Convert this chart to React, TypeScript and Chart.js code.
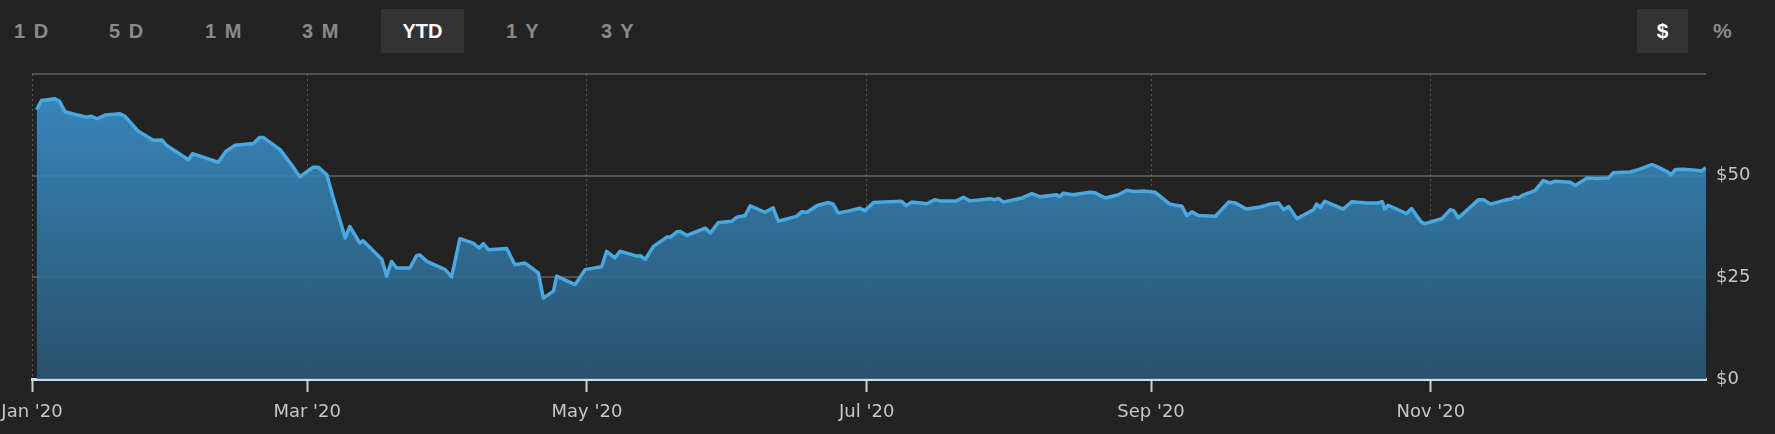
import React, { useEffect, useRef } from "react";
import { Chart, registerables } from "chart.js";

Chart.register(...registerables);

// Day of year 2020 (0 = Jan 1) for each sampled trading day
const days: number[] = [
  1.0, 2.1, 5.0, 6.0, 7.2, 9.0, 11.9, 13.0, 14.2, 15.9, 19.2, 20.3, 23.2, 26.4, 28.3, 29.4,
  34.1, 35.0, 40.6, 42.3, 44.3, 48.3, 49.6, 50.4, 54.1, 56.6, 58.4, 61.3, 62.4, 64.3, 65.7,
  68.3, 69.3, 71.5, 72.2, 76.3, 77.3, 78.4, 79.5, 82.4, 83.9, 84.6, 86.1, 90.1, 91.5, 93.3,
  96.2, 97.5, 98.4, 99.5, 103.5, 105.3, 107.5, 110.4, 111.5, 113.7, 114.4, 118.4, 120.6,
  124.2, 125.3, 127.1, 128.2, 131.9, 132.7, 133.7, 135.5, 138.4, 139.2, 140.6, 141.3, 142.8,
  146.8, 147.9, 149.6, 152.6, 153.7, 155.5, 156.6, 159.8, 161.6, 162.7, 166.7, 167.8, 169.0,
  171.1, 173.6, 174.7, 175.8, 178.4, 180.5, 181.6, 183.5, 189.6, 190.6, 191.8, 195.1, 196.9,
  198.0, 201.6, 203.1, 204.5, 208.9, 210.0, 210.7, 211.8, 215.8, 218.0, 219.8, 223.4, 224.0,
  224.9, 227.0, 230.7, 231.8, 234.0, 236.9, 238.7, 240.2, 242.7, 244.9, 246.0, 248.1, 250.7,
  251.8, 252.9, 254.3, 258.0, 260.9, 262.3, 264.8, 267.8, 269.9, 271.8, 272.9, 274.0, 275.8,
  279.4, 280.1, 280.9, 281.9, 285.9, 287.8, 291.0, 293.6, 294.4, 295.0, 295.7, 299.7, 300.8,
  303.0, 303.7, 307.4, 309.2, 310.0, 311.0, 315.4, 316.5, 318.0, 321.6, 322.7, 323.1, 324.2,
  325.2, 327.7, 328.8, 329.5, 331.0, 332.0, 335.4, 336.5, 339.0, 341.2, 343.7, 344.8, 348.5,
  350.6, 353.2, 354.2, 356.8, 357.3, 358.3, 360.0, 363.3, 364.0, 365.0,
];

// Share price in USD
const prices: number[] = [
  66.2, 68.5, 68.9, 68.3, 65.7, 65.2, 64.4, 64.6, 64.0, 64.9, 65.2, 64.6, 60.9, 58.7, 58.8, 57.4,
  53.9, 55.4, 53.3, 56.0, 57.5, 57.9, 59.4, 59.4, 56.4, 52.7, 49.7, 52.1, 52.1, 50.2, 44.5,
  34.7, 37.5, 33.4, 34.0, 29.4, 25.3, 28.9, 27.3, 27.3, 30.4, 30.5, 28.9, 26.9, 25.1, 34.5,
  33.4, 32.2, 33.3, 31.8, 32.1, 28.1, 28.5, 26.1, 19.9, 21.6, 25.3, 23.2, 26.9,
  27.6, 31.4, 29.8, 31.4, 30.2, 30.3, 29.4, 32.6, 34.9, 34.9, 36.2, 36.3, 35.3,
  37.1, 35.9, 38.4, 38.8, 39.8, 40.2, 42.6, 41.0, 42.1, 38.8, 40.0, 41.1, 41.0,
  42.6, 43.4, 43.0, 40.8, 41.4, 42.0, 41.4, 43.4, 43.7, 42.6, 43.5, 43.1, 44.1,
  43.8, 43.8, 44.7, 43.8, 44.3, 44.1, 44.4, 43.5, 44.5, 45.6, 44.8, 45.3, 44.8,
  45.7, 45.3, 45.9, 45.8, 44.5, 45.3, 46.4, 46.1, 46.2, 45.9, 44.9, 43.0, 42.5,
  40.2, 41.1, 40.2, 40.0, 43.5, 43.3, 41.8, 42.3, 43.0, 43.3, 41.6, 42.4, 39.4,
  41.6, 43.0, 42.2, 43.7, 41.8, 43.6, 43.3, 43.3, 43.6, 41.8, 42.7, 40.7, 41.9,
  38.5, 38.2, 39.4, 41.6, 41.4, 39.6, 44.1, 44.1, 43.0, 44.1, 44.3, 44.7, 44.6,
  45.3, 46.3, 47.8, 48.8, 48.2, 48.6, 48.4, 47.6, 49.4, 49.3, 49.4, 50.7, 50.9,
  51.6, 52.7, 52.3, 50.8, 50.2, 51.5, 51.6, 51.3, 51.1, 52.0,
];

// X-axis ticks: first day of every other month (2020 is a leap year)
const monthTickDays: number[] = [0, 60, 121, 182, 244, 305];
const monthTickLabels: string[] = ["Jan '20", "Mar '20", "May '20", "Jul '20", "Sep '20", "Nov '20"];

// Y-axis
const yTickValues: number[] = [0, 25, 50, 75];
const yTickLabels: string[] = ["$0", "$25", "$50", ""];

// Range selector buttons
const rangeButtons: string[] = ["1 D", "5 D", "1 M", "3 M", "YTD", "1 Y", "3 Y"];
const activeRange = "YTD";
const unitButtons: string[] = ["$", "%"];
const activeUnit = "$";

const AXIS_FONT = "'DejaVu Sans', 'Liberation Sans', sans-serif";
const BTN_FONT = "'Liberation Sans Narrow', 'Liberation Sans', Arial, sans-serif";

export default function App() {
  const canvasRef = useRef<HTMLCanvasElement | null>(null);

  useEffect(() => {
    document.body.style.margin = "0";
    document.body.style.background = "#232323";
    const canvas = canvasRef.current;
    if (!canvas) return;

    const points = days.map((d, i) => ({ x: d, y: prices[i] }));

    const chart = new Chart(canvas, {
      type: "line",
      data: {
        datasets: [
          {
            data: points,
            borderColor: "#48a8e2",
            borderWidth: 3.5,
            pointRadius: 0,
            tension: 0,
            borderJoinStyle: "round",
            fill: "start",
            backgroundColor: (ctx: any) => {
              const { chart } = ctx;
              const area = chart.chartArea;
              if (!area) return "rgba(50,120,170,0.9)";
              const g = chart.ctx.createLinearGradient(0, area.top, 0, area.bottom);
              g.addColorStop(0, "rgba(60,152,214,0.88)");
              g.addColorStop(1, "rgba(42,88,118,0.88)");
              return g;
            },
          },
        ],
      },
      options: {
        animation: false,
        responsive: true,
        maintainAspectRatio: false,
        layout: { padding: { left: 32, top: 74, right: 0, bottom: 0 } },
        plugins: {
          legend: { display: false },
          tooltip: { enabled: false },
        },
        scales: {
          x: {
            type: "linear",
            min: 0,
            max: 365,
            afterBuildTicks: (scale: any) => {
              scale.ticks = monthTickDays.map((v) => ({ value: v }));
            },
            afterFit: (scale: any) => {
              scale.height = 55;
              scale.paddingLeft = 0;
              scale.paddingRight = 0;
            },
            ticks: {
              autoSkip: false,
              maxRotation: 0,
              padding: 10,
              color: "#c6c6c6",
              font: { family: AXIS_FONT, size: 18 },
              callback: (v: any) => {
                const i = monthTickDays.indexOf(Number(v));
                return i >= 0 ? monthTickLabels[i] : "";
              },
            },
            grid: {
              color: "rgba(150,150,150,0.45)",
              lineWidth: 1,
              drawTicks: true,
              tickLength: 13,
              tickColor: "#c8d2da",
              tickWidth: 2,
              tickBorderDash: [],
            },
            border: { display: true, color: "#cddbe6", width: 3, dash: [2, 3] },
          },
          y: {
            position: "right",
            min: 0,
            max: 75,
            afterBuildTicks: (scale: any) => {
              scale.ticks = yTickValues.map((v) => ({ value: v }));
            },
            afterFit: (scale: any) => {
              scale.width = 69;
              scale.paddingTop = 0;
              scale.paddingBottom = 0;
            },
            ticks: {
              padding: 10,
              color: "#c6c6c6",
              font: { family: AXIS_FONT, size: 18 },
              callback: (v: any) => {
                const i = yTickValues.indexOf(Number(v));
                return i >= 0 ? yTickLabels[i] : "";
              },
            },
            grid: {
              color: "rgba(120,120,120,0.55)",
              lineWidth: 2,
              drawTicks: false,
            },
            border: { display: false },
          },
        },
      },
    } as any);

    return () => chart.destroy();
  }, []);

  const btnLefts = [14, 109, 205, 302, 381, 506, 601];

  return (
    <div
      style={{
        position: "fixed",
        left: 0,
        top: 0,
        width: 1775,
        height: 434,
        background: "#232323",
        overflow: "hidden",
      }}
    >
      {rangeButtons.map((b, i) => {
        const active = b === activeRange;
        return (
          <div
            key={b}
            style={{
              position: "absolute",
              left: btnLefts[i],
              top: 9,
              height: 44,
              width: active ? 83 : undefined,
              lineHeight: "44px",
              textAlign: active ? "center" : "left",
              background: active ? "#333333" : "transparent",
              color: active ? "#ffffff" : "#8a8a8a",
              fontFamily: BTN_FONT,
              fontWeight: 700,
              fontSize: 20,
              letterSpacing: active ? "0px" : "1.5px",
            }}
          >
            {b}
          </div>
        );
      })}
      {unitButtons.map((u, i) => {
        const active = u === activeUnit;
        return (
          <div
            key={u}
            style={{
              position: "absolute",
              left: i === 0 ? 1637 : 1713,
              top: 9,
              height: 44,
              width: active ? 51 : undefined,
              lineHeight: "44px",
              textAlign: "center",
              background: active ? "#333333" : "transparent",
              color: active ? "#ffffff" : "#8a8a8a",
              fontFamily: BTN_FONT,
              fontWeight: 700,
              fontSize: 21,
            }}
          >
            {u}
          </div>
        );
      })}
      <div style={{ position: "absolute", left: 0, top: 0, width: 1775, height: 434 }}>
        <canvas ref={canvasRef} />
      </div>
    </div>
  );
}
